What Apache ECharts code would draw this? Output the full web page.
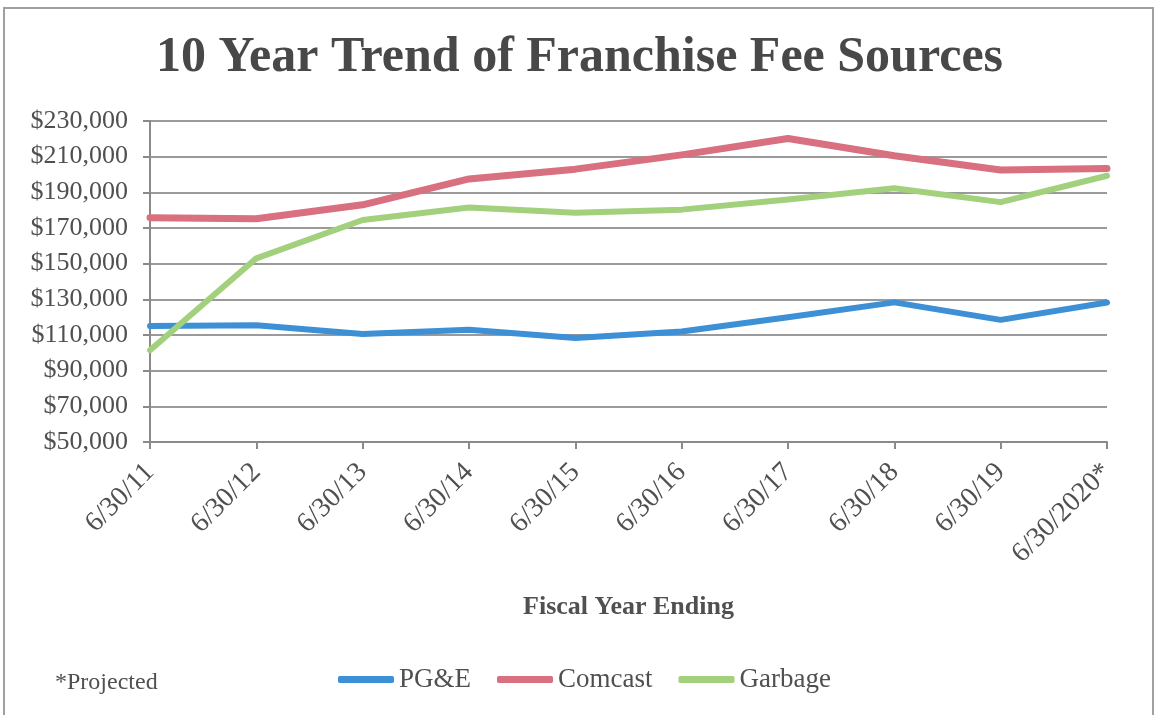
<!DOCTYPE html>
<html>
<head>
<meta charset="utf-8">
<title>10 Year Trend of Franchise Fee Sources</title>
<script src="https://cdn.jsdelivr.net/npm/echarts@6/dist/echarts.min.js"></script>
<style>
  html, body { margin: 0; padding: 0; background: #fff; }
  #chart { width: 1159px; height: 715px; }
</style>
</head>
<body>
<div id="chart"></div>
<script>
  // fiscal years and fee amounts
  var categories = ['6/30/11', '6/30/12', '6/30/13', '6/30/14', '6/30/15',
                    '6/30/16', '6/30/17', '6/30/18', '6/30/19', '6/30/2020*'];
  var pge     = [115000, 115500, 110500, 113000, 108300, 112000, 120000, 128300, 118500, 128200];
  var comcast = [175800, 175200, 183000, 197500, 203000, 211000, 220200, 210500, 202500, 203300];
  var garbage = [101500, 153000, 174500, 181500, 178600, 180300, 186000, 192300, 184500, 199300];

  var serif = '"Liberation Serif", "DejaVu Serif", serif';
  var textColor = '#505050';

  var dom = document.getElementById('chart');
  var chart = echarts.init(dom, null, { renderer: 'canvas' });

  function line(name, data, color, width) {
    return {
      name: name,
      type: 'line',
      data: data,
      symbol: 'none',
      lineStyle: { color: color, width: width, cap: 'round', join: 'round' },
      itemStyle: { color: color }
    };
  }

  var option = {
    backgroundColor: '#fff',
    animation: false,
    title: {
      text: '10 Year Trend of Franchise Fee Sources',
      left: 'center',
      top: 28,
      textStyle: { fontFamily: serif, fontWeight: 'bold', fontSize: 50, color: '#484848' }
    },
    grid: { left: 150, right: 52, top: 121, bottom: 273 },
    legend: {
      left: 333,
      top: 661,
      itemWidth: 56,
      itemHeight: 7,
      itemGap: 26,
      icon: 'roundRect',
      textStyle: { fontFamily: serif, fontSize: 27, color: textColor },
      data: ['PG&E', 'Comcast', 'Garbage']
    },
    xAxis: {
      type: 'category',
      data: categories,
      boundaryGap: false,
      name: 'Fiscal Year Ending',
      nameLocation: 'middle',
      nameGap: 152,
      nameTextStyle: { fontFamily: serif, fontWeight: 'bold', fontSize: 26, color: textColor },
      axisLine: { lineStyle: { color: '#8a8a8a', width: 2 } },
      axisTick: { show: true, alignWithLabel: true, length: 7, lineStyle: { color: '#8a8a8a', width: 2 } },
      axisLabel: {
        rotate: 45,
        margin: 26,
        interval: 0,
        fontFamily: serif,
        fontSize: 28,
        color: textColor
      },
      splitLine: { show: false }
    },
    yAxis: {
      type: 'value',
      min: 50000,
      max: 230000,
      interval: 20000,
      axisLine: { show: true, lineStyle: { color: '#8a8a8a', width: 2 } },
      axisTick: { show: true, length: 7, lineStyle: { color: '#8a8a8a', width: 2 } },
      axisLabel: {
        margin: 22,
        fontFamily: serif,
        fontSize: 26,
        color: textColor,
        formatter: function (v) { return '$' + v.toLocaleString('en-US'); }
      },
      splitLine: { show: true, lineStyle: { color: '#9a9a9a', width: 2 } }
    },
    graphic: [
      {
        // scanned frame around the chart
        type: 'rect',
        shape: { x: 4, y: 8, width: 1149, height: 720 },
        style: { fill: 'none', stroke: '#a0a0a0', lineWidth: 2 },
        silent: true
      },
      {
        type: 'text',
        left: 55,
        top: 671,
        style: { text: '*Projected', font: '24px ' + serif, fill: textColor }
      }
    ],
    series: [
      line('PG&E', pge, '#3d8fd6', 6),
      line('Comcast', comcast, '#d8707f', 7),
      line('Garbage', garbage, '#a2d07c', 6)
    ]
  };

  chart.setOption(option);
  window.addEventListener('resize', function () { chart.resize(); });
</script>
</body>
</html>
